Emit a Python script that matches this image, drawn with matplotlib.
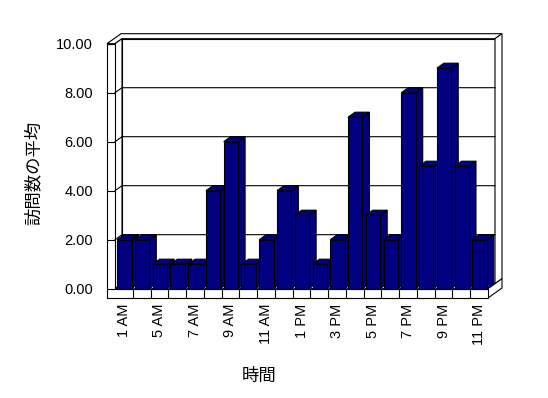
import matplotlib
matplotlib.use("Agg")
import matplotlib.pyplot as plt
from matplotlib.patches import Polygon

# データ
hours = ["1 AM", "4 AM", "5 AM", "6 AM", "7 AM", "8 AM", "9 AM", "10 AM", "11 AM",
         "12 PM", "1 PM", "2 PM", "3 PM", "4 PM", "5 PM", "6 PM", "7 PM", "8 PM",
         "9 PM", "10 PM", "11 PM"]
visits = [2, 2, 1, 1, 1, 4, 6, 1, 2, 4, 3, 1, 2, 7, 3, 2, 8, 5, 9, 5, 2]
yticks = [0, 2, 4, 6, 8, 10]

W, H = 548, 398
fig = plt.figure(figsize=(W / 100, H / 100), dpi=100)
# 前面の座標: x 115..488 px, y 43.7..288.7 px
ax = fig.add_axes([115 / W, (H - 288.7) / H, 373 / W, 245 / H])
n = len(hours)
ax.set_xlim(0, n)
ax.set_ylim(0, 10)

pxx = 373 / n      # 1カテゴリのピクセル
pxy = 245 / 10     # 1単位のピクセル
DX, DY = 7 / pxx, 5 / pxy       # 奥行き
LW, FT = 8 / pxx, 9.3 / pxy     # 壁・床の厚さ
top = yticks[-1]
lw = 0.8

def poly(pts, fc="white", z=1):
    ax.add_patch(Polygon(pts, closed=True, facecolor=fc, edgecolor="black",
                         linewidth=lw, clip_on=False, zorder=z))

# 壁と床
poly([(DX, DY), (n + DX, DY), (n + DX, top + DY), (DX, top + DY)])
poly([(-LW, top), (0, top), (DX, top + DY), (n + DX, top + DY),
      (n + 2 * DX, top + 2 * DY), (-LW + 2 * DX, top + 2 * DY)])
poly([(0, 0), (0, top), (DX, top + DY), (DX, DY)])
poly([(n + DX, DY), (n + DX, top + DY), (n + 2 * DX, top + 2 * DY), (n + 2 * DX, 2 * DY)])
poly([(0, 0), (n, 0), (n + DX, DY), (DX, DY)])
poly([(n, -FT), (n, 0), (n + 2 * DX, 2 * DY), (n + 2 * DX, -FT + 2 * DY)])
poly([(-LW, -FT), (n, -FT), (n, 0), (0, 0), (0, top), (-LW, top)])

# 目盛線
for v in yticks[1:-1]:
    ax.plot([0, DX, n + DX], [v, v + DY, v + DY], color="black", lw=lw,
            clip_on=False, zorder=2)
for i in range(1, n):
    ax.plot([i, i], [-FT, 0], color="black", lw=lw, clip_on=False, zorder=2)

# 棒
navy = "#000080"
for i, v in enumerate(visits):
    x0, x1 = i + 0.12, i + 0.93
    poly([(x1, 0), (x1, v), (x1 + DX, v + DY), (x1 + DX, DY)], navy, 3)
    poly([(x0, v), (x1, v), (x1 + DX, v + DY), (x0 + DX, v + DY)], navy, 3)
    poly([(x0, 0), (x1, 0), (x1, v), (x0, v)], navy, 3)

for s in ax.spines.values():
    s.set_visible(False)
ax.patch.set_visible(False)

num_font = "Liberation Sans"
jp_font = ["Noto Sans CJK JP", "DejaVu Sans"]
ax.set_yticks(yticks)
ax.set_yticklabels([f"{v:.2f}" for v in yticks], family=num_font, fontsize=10.5)
ax.tick_params(axis="y", length=8 * 0.72, width=lw, pad=10)
ax.set_xticks([i + 0.5 for i in range(0, n, 2)])
ax.set_xticklabels(hours[::2], rotation=90, family=num_font, fontsize=10.5,
                   va="top", ha="center")
ax.tick_params(axis="x", length=0, pad=11)

ax.set_ylabel("訪問数の平均", family=jp_font, fontsize=12.5)
ax.yaxis.set_label_coords((43 - 115) / 373, (288.7 - 173) / 245)
ax.set_xlabel("時間", family=jp_font, fontsize=12.5)
ax.xaxis.set_label_coords((259 - 115) / 373, -(367 - 288.7) / 245)

fig.savefig("out.png", dpi=100)
